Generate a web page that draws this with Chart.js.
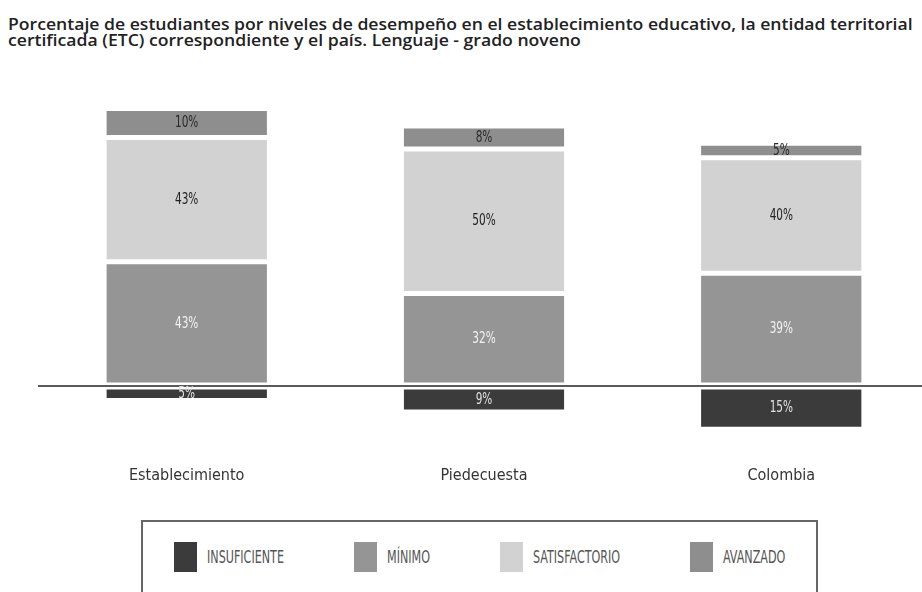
<!DOCTYPE html>
<html lang="es">
<head>
  <meta charset="UTF-8" />
  <title>Niveles de desempeño - Lenguaje grado noveno</title>
  <script src="https://cdn.jsdelivr.net/npm/chart.js"></script>
  <style>
    body { margin: 0; width: 922px; height: 592px; overflow: hidden; background: #fff; position: relative; }
    #title {
      position: absolute; left: 8px; top: 16px;
      font-family: "Open Sans", sans-serif; font-weight: 600; font-size: 16px; line-height: 16px;
      color: #222; white-space: nowrap;
      transform: scaleX(1.1); transform-origin: left top;
    }
    #wrap { position: absolute; left: 0; top: 0; width: 932px; height: 507px; }
    #legend {
      position: absolute; left: 141px; top: 520px; width: 677px; height: 110px;
      border: 2px solid #666; box-sizing: border-box;
      display: flex; align-items: center; gap: 70px;
      padding: 0 0 36px 31px;
    }
    .item { display: flex; align-items: center; gap: 10px; }
    .sw { width: 23px; height: 30px; }
    .lbl {
      display: inline-block; transform-origin: left center;
      font-family: "DejaVu Sans Condensed", "DejaVu Sans", sans-serif;
      font-size: 17px; color: #555;
    }
  </style>
</head>
<body>

  <div id="title">Porcentaje de estudiantes por niveles de desempeño en el establecimiento educativo, la entidad territorial<br>certificada (ETC) correspondiente y el país. Lenguaje - grado noveno</div>

  <div id="wrap"><canvas id="chart" width="932" height="507"></canvas></div>

  <!-- legend box -->
  <div id="legend"></div>

  <script>
    // data
    const categories = ['Establecimiento', 'Piedecuesta', 'Colombia'];
    const levels = ['INSUFICIENTE', 'MÍNIMO', 'SATISFACTORIO', 'AVANZADO'];
    const insuficiente = [5, 9, 15];   // drawn below the line
    const minimo = [43, 32, 39];
    const satisfactorio = [43, 50, 40];
    const avanzado = [10, 8, 5];

    const fills = ['#3b3b3b', '#959595', '#d2d2d2', '#8e8e8e'];
    const textColors = ['#e0e0e0', '#f2f2f2', '#222', '#2a2a2a'];
    const labelFont = '"DejaVu Sans Condensed", "DejaVu Sans", sans-serif';
    const squeeze = 0.73; // the original uses a very narrow typeface

    const seriesData = [insuficiente.map(v => -v), minimo, satisfactorio, avanzado];

    // html legend, narrowed text
    const legend = document.getElementById('legend');
    levels.forEach((name, i) => {
      const item = document.createElement('div');
      item.className = 'item';
      item.innerHTML = '<div class="sw" style="background:' + fills[i] + '"></div><span class="lbl">' + name + '</span>';
      legend.appendChild(item);
    });
    document.querySelectorAll('.lbl').forEach(el => {
      const w = el.getBoundingClientRect().width;
      el.style.transform = 'scaleX(' + squeeze + ')';
      el.style.marginRight = (-(w * (1 - squeeze))) + 'px';
    });

    // percentage text inside every segment
    const segmentLabels = {
      id: 'segmentLabels',
      afterDatasetsDraw(chart) {
        const ctx = chart.ctx;
        chart.data.datasets.forEach((ds, i) => {
          chart.getDatasetMeta(i).data.forEach((bar, j) => {
            const p = bar.getCenterPoint();
            ctx.save();
            ctx.translate(p.x, p.y);
            ctx.scale(squeeze, 1);
            ctx.font = '16px ' + labelFont;
            ctx.textAlign = 'center';
            ctx.textBaseline = 'middle';
            ctx.fillStyle = textColors[i];
            ctx.fillText(Math.abs(ds.data[j]) + '%', 0, 0);
            ctx.restore();
          });
        });
      }
    };

    new Chart(document.getElementById('chart'), {
      type: 'bar',
      data: {
        labels: categories,
        datasets: levels.map((name, i) => ({
          label: name,
          data: seriesData[i],
          backgroundColor: fills[i],
          borderColor: '#ffffff',
          borderWidth: { top: 2.5, bottom: 2.5, left: 0, right: 0 },
          borderSkipped: false,
          categoryPercentage: 1,
          barPercentage: 0.54
        }))
      },
      options: {
        responsive: false,
        animation: false,
        layout: { padding: { top: 97, left: 38, right: 2, bottom: 0 } },
        plugins: {
          legend: { display: false },
          title: { display: false },
          tooltip: { enabled: false }
        },
        scales: {
          x: {
            stacked: true,
            grid: { display: false, drawTicks: false },
            border: { display: false },
            ticks: {
              color: '#333',
              padding: 22,
              font: { family: labelFont, size: 16 }
            }
          },
          y: {
            stacked: true,
            min: -20,
            max: 100,
            ticks: { display: false, stepSize: 10 },
            border: { display: false },
            grid: {
              drawTicks: false,
              lineWidth: 2,
              color: c => (c.tick && c.tick.value === 0) ? '#5a5a5a' : 'rgba(0,0,0,0)'
            }
          }
        }
      },
      plugins: [segmentLabels]
    });
  </script>
</body>
</html>
